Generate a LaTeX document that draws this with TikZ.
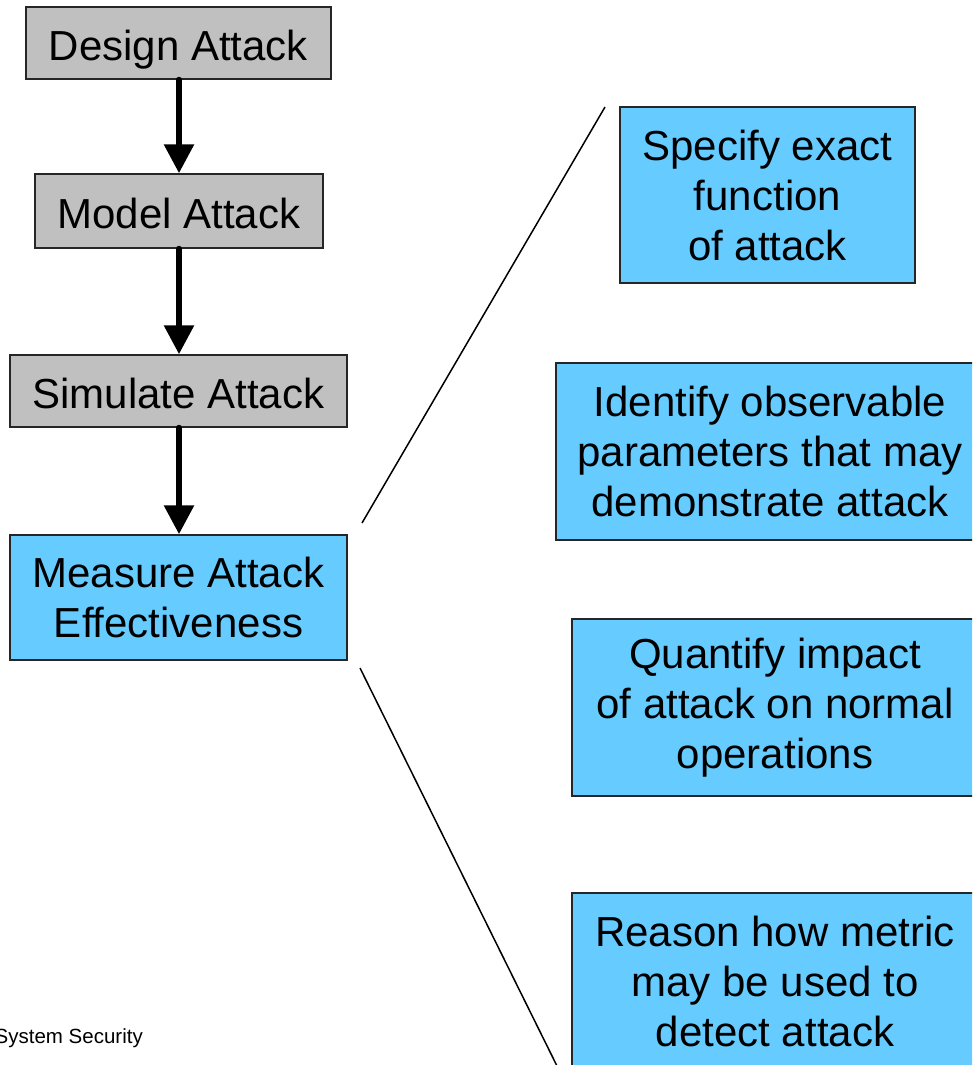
\documentclass[tikz,border=0pt]{standalone}
\usepackage{fontspec}
\setmainfont{Liberation Sans}
\usetikzlibrary{arrows.meta}

\definecolor{stepgray}{HTML}{C0C0C0}
\definecolor{stepblue}{HTML}{66CCFF}

\begin{document}
\begin{tikzpicture}[x=1pt,y=-1pt,
  box/.style={draw=black!85,line width=1.5pt,inner sep=0pt,align=center,
    font=\fontsize{42}{50}\selectfont},
  oneline/.style={text height=34pt,text depth=0pt},
  graybox/.style={box,oneline,fill=stepgray},
  bluebox/.style={box,fill=stepblue},
  flow/.style={line width=6pt,line cap=round,-{Triangle[width=29pt,length=29pt]}},
  callout/.style={line width=1.5pt}]
\useasboundingbox (0,0) rectangle (972,1065);
\clip (0,0) rectangle (972,1065);

% process chain on the left
\node[graybox,minimum width=305pt,minimum height=72pt] (design) at (178.5,43) {Design Attack};
\node[graybox,minimum width=288pt,minimum height=74pt] (model) at (179,211) {Model Attack};
\node[graybox,minimum width=337pt,minimum height=72pt] (simulate) at (178.5,391) {Simulate Attack};
\node[bluebox,minimum width=337pt,minimum height=125pt] (measure) at (178.5,597.5) {Measure Attack\\Effectiveness};

\draw[flow] (design.south -| 179,0) -- (model.north -| 179,0);
\draw[flow] (model.south -| 179,0) -- (simulate.north -| 179,0);
\draw[flow] (simulate.south -| 179,0) -- (measure.north -| 179,0);

% detail steps on the right
\node[bluebox,minimum width=295pt,minimum height=176pt] (specify) at (767.5,195) {Specify exact\\function\\of attack};
\node[bluebox,minimum width=428pt,minimum height=177pt] (identify) at (770,451.5) {Identify observable\\parameters that may\\demonstrate attack};
\node[bluebox,minimum width=406pt,minimum height=177pt] (quantify) at (775,707.5) {Quantify impact\\of attack on normal\\operations};
\node[bluebox,minimum width=406pt,minimum height=177pt] (reason) at (775,981.5) {Reason how metric\\may be used to\\detect attack};

% callout lines fanning out from the measuring step
\coordinate (calloutA1) at (362,523);
\coordinate (calloutA2) at (605,107);
\coordinate (calloutB1) at (360,668);
\coordinate (calloutB2) at (557,1066);
\draw[callout] (calloutA1) -- (calloutA2);
\draw[callout] (calloutB1) -- (calloutB2);

% footer
\node[anchor=base east,inner sep=0pt,font=\fontsize{20.5}{24}\selectfont] (footer) at (143,1043) {System Security};
\end{tikzpicture}
\end{document}
